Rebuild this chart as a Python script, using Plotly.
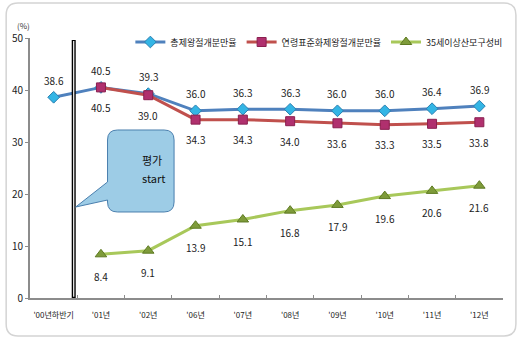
import plotly.graph_objects as go

categories = ["'00년하반기", "'01년", "'02년", "'06년", "'07년", "'08년", "'09년", "'10년", "'11년", "'12년"]
total_rate = [38.6, 40.5, 39.3, 36.0, 36.3, 36.3, 36.0, 36.0, 36.4, 36.9]
std_rate = [None, 40.5, 39.0, 34.3, 34.3, 34.0, 33.6, 33.3, 33.5, 33.8]
older_ratio = [None, 8.4, 9.1, 13.9, 15.1, 16.8, 17.9, 19.6, 20.6, 21.6]
series_names = ["총제왕절개분만율", "연령표준화제왕절개분만율", "35세이상산모구성비"]
y_ticks = [0, 10, 20, 30, 40, 50]

W, H = 520, 342
L, R, T, B = 27, 17, 38, 44
PW, PH = W - L - R, H - T - B

def px(x, y):
    return ((x - L) / PW, (H - B - y) / PH)

FONT = "Noto Sans CJK KR"

fig = go.Figure()
fig.add_trace(go.Scatter(x=categories, y=total_rate, name=series_names[0], mode="lines+markers",
                         line=dict(color="#4F81BD", width=3),
                         marker=dict(symbol="diamond", size=9, color="#33B5E5", line=dict(color="#2A7FB0", width=1))))
fig.add_trace(go.Scatter(x=categories, y=std_rate, name=series_names[1], mode="lines+markers",
                         line=dict(color="#C0504D", width=3),
                         marker=dict(symbol="square", size=9, color="#B0306E", line=dict(color="#8A1F4F", width=1))))
fig.add_trace(go.Scatter(x=categories, y=older_ratio, name=series_names[2], mode="lines+markers",
                         line=dict(color="#A8C85A", width=3),
                         marker=dict(symbol="triangle-up", size=10, color="#7E9B3A", line=dict(color="#5E7A22", width=1))))

annotations = []
def add_labels(vals, yshift, xshift=0):
    for c, v in zip(categories, vals):
        if v is None:
            continue
        annotations.append(dict(x=c, y=v, text=f"{v:.1f}", showarrow=False, yshift=yshift, xshift=xshift,
                                font=dict(family=FONT, size=10, color="#222222")))
add_labels(total_rate, 17)
add_labels(std_rate, -20)
add_labels(older_ratio, -22)

# (%) label
annotations.append(dict(xref="paper", yref="paper", x=px(12, 0)[0], y=px(0, 18)[1], text="(%)", showarrow=False,
                        font=dict(family=FONT, size=8, color="#333333")))

# callout text
cx, cy1 = px(138, 160)
_, cy2 = px(138, 178)
annotations.append(dict(xref="paper", yref="paper", x=cx, y=cy1, text="평가", showarrow=False,
                        font=dict(family=FONT, size=11, color="#111111")))
annotations.append(dict(xref="paper", yref="paper", x=cx, y=cy2, text="start", showarrow=False,
                        font=dict(family=FONT, size=11, color="#111111")))

def path_from(points_cmds):
    s = ""
    for cmd in points_cmds:
        if cmd[0] in ("M", "L"):
            x, y = px(cmd[1], cmd[2])
            s += f"{cmd[0]} {x:.4f},{y:.4f} "
        elif cmd[0] == "Q":
            x1, y1 = px(cmd[1], cmd[2])
            x2, y2 = px(cmd[3], cmd[4])
            s += f"Q {x1:.4f},{y1:.4f} {x2:.4f},{y2:.4f} "
        elif cmd[0] == "Z":
            s += "Z"
    return s

# callout shape
x0, x1, y0, y1, r = 105, 172, 130, 212, 10
callout = path_from([
    ("M", x0 + r, y0), ("L", x1 - r, y0), ("Q", x1, y0, x1, y0 + r),
    ("L", x1, y1 - r), ("Q", x1, y1, x1 - r, y1),
    ("L", x0 + r, y1), ("Q", x0, y1, x0, y1 - r),
    ("L", x0, 200), ("L", 73, 207), ("L", x0, 182),
    ("L", x0, y0 + r), ("Q", x0, y0, x0 + r, y0), ("Z",)
])

# outer frame
fx0, fx1, fy0, fy1, fr = 3, 516, 3, 336, 12
frame = path_from([
    ("M", fx0 + fr, fy0), ("L", fx1 - fr, fy0), ("Q", fx1, fy0, fx1, fy0 + fr),
    ("L", fx1, fy1 - fr), ("Q", fx1, fy1, fx1 - fr, fy1),
    ("L", fx0 + fr, fy1), ("Q", fx0, fy1, fx0, fy1 - fr),
    ("L", fx0, fy0 + fr), ("Q", fx0, fy0, fx0 + fr, fy0), ("Z",)
])

vx = px(71, 0)[0]
shapes = [
    dict(type="path", xref="paper", yref="paper", path=frame, line=dict(color="#D4D4D4", width=1.5), layer="below"),
    dict(type="line", xref="paper", yref="paper", x0=vx, x1=vx, y0=0, y1=px(0, 40)[1],
         line=dict(color="#000000", width=4), layer="above"),
    dict(type="line", xref="paper", yref="paper", x0=vx, x1=vx, y0=0.005, y1=px(0, 41)[1],
         line=dict(color="#FFFFFF", width=1.2), layer="above"),
    dict(type="path", xref="paper", yref="paper", path=callout, fillcolor="#9DCCE6",
         line=dict(color="#4A7FAE", width=1), layer="above"),
]

fig.update_layout(
    width=W, height=H, margin=dict(l=L, r=R, t=T, b=B),
    paper_bgcolor="white", plot_bgcolor="white",
    font=dict(family=FONT, size=10, color="#222222"),
    showlegend=True,
    legend=dict(orientation="h", x=px(128, 0)[0], y=px(0, 42)[1], xanchor="left", yanchor="middle",
                font=dict(family=FONT, size=9, color="#222222"), itemwidth=30,
                bgcolor="rgba(0,0,0,0)", tracegroupgap=0),
    xaxis=dict(type="category", categoryorder="array", categoryarray=categories, range=[-0.5, 9.5],
               showgrid=False, showline=True, linecolor="#8C8C8C", linewidth=2,
               ticks="inside", ticklen=3, tickcolor="#8C8C8C", tickson="boundaries", tickangle=0,
               ticklabelstandoff=8,
               tickfont=dict(family=FONT, size=8, color="#222222"), zeroline=False),
    yaxis=dict(range=[0, 50], tickvals=y_ticks, showgrid=False, showline=True, linecolor="#8C8C8C", linewidth=2,
               ticks="outside", ticklen=3, tickcolor="#8C8C8C",
               tickfont=dict(family=FONT, size=10, color="#222222"), zeroline=False),
    annotations=annotations, shapes=shapes,
)

fig.write_html("out.html")
